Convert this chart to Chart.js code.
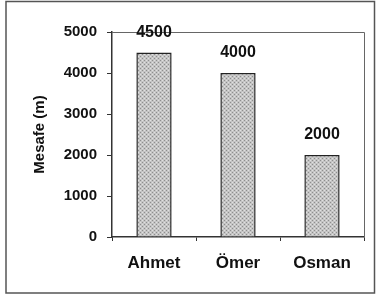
<!DOCTYPE html>
<html>
<head>
<meta charset="utf-8">
<script src="https://cdn.jsdelivr.net/npm/chart.js@4/dist/chart.umd.min.js"></script>
<style>
  html, body { margin: 0; padding: 0; background: #fff; }
  #kutu { width: 376px; height: 295px; }
</style>
</head>
<body>
<div id="kutu"><canvas id="grafik" width="376" height="295"></canvas></div>
<script>
// veriler
const isimler = ["Ahmet", "Ömer", "Osman"];
const mesafeler = [4500, 4000, 2000];
const eksenBasligi = "Mesafe (m)";

// noktalı gri desen (taranmış çubuk görünümü)
function desenYap() {
    const c = document.createElement("canvas");
    c.width = 4; c.height = 4;
    const g = c.getContext("2d");
    g.fillStyle = "#c4c4c4";
    g.fillRect(0, 0, 4, 4);
    g.fillStyle = "#8e8e8e";
    g.fillRect(0, 0, 1, 1);
    g.fillRect(2, 2, 1, 1);
    g.fillStyle = "#e0e0e0";
    g.fillRect(2, 0, 1, 1);
    g.fillRect(0, 2, 1, 1);
    return g.createPattern(c, "repeat");
}

const YAZI = "Arial, 'Liberation Sans', sans-serif";

// çubuk üstü değerler + çerçeveler
const etiketEklentisi = {
    id: "etiketler",
    afterDatasetsDraw(chart) {
        const ctx = chart.ctx;
        const meta = chart.getDatasetMeta(0);
        ctx.save();
        ctx.font = "bold 16px " + YAZI;
        ctx.fillStyle = "#111";
        ctx.textAlign = "center";
        ctx.textBaseline = "middle";
        meta.data.forEach((bar, i) => {
            ctx.fillText(String(mesafeler[i]), bar.x, bar.y - 20);
        });
        ctx.restore();
    },
    beforeDatasetsDraw(chart) {
        const { ctx, chartArea: a } = chart;
        ctx.save();
        ctx.strokeStyle = "#666";
        ctx.lineWidth = 1;
        ctx.beginPath();
        ctx.moveTo(a.left, a.top + 0.5);
        ctx.lineTo(a.right + 0.5, a.top + 0.5);
        ctx.lineTo(a.right + 0.5, a.bottom);
        ctx.stroke();
        ctx.restore();
    },
    afterDraw(chart) {
        const ctx = chart.ctx;
        ctx.save();
        ctx.strokeStyle = "#555";
        ctx.lineWidth = 1.5;
        ctx.strokeRect(6, 1.5, 368.5, 291.5);
        ctx.restore();
    }
};

new Chart(document.getElementById("grafik"), {
    type: "bar",
    data: {
        labels: isimler,
        datasets: [{
            data: mesafeler,
            backgroundColor: desenYap(),
            borderColor: "#222",
            borderWidth: 1.5,
            barPercentage: 0.42,
            categoryPercentage: 1
        }]
    },
    options: {
        responsive: false,
        animation: false,
        layout: { padding: { left: 6, top: 32, right: 12, bottom: 0 } },
        plugins: {
            legend: { display: false },
            tooltip: { enabled: false }
        },
        scales: {
            y: {
                min: 0,
                max: 5000,
                ticks: {
                    stepSize: 1000,
                    color: "#111",
                    padding: 10,
                    callback: v => String(v),
                    font: { family: YAZI, size: 15, weight: "bold" }
                },
                grid: { drawOnChartArea: false, tickLength: 5, color: "#333" },
                border: { color: "#333", width: 1.5 },
                title: {
                    display: true,
                    text: eksenBasligi,
                    color: "#111",
                    padding: { top: 25, bottom: 0 },
                    font: { family: YAZI, size: 15, weight: "bold" }
                },
                afterFit: s => { s.width = 106; }
            },
            x: {
                ticks: {
                    color: "#111",
                    padding: 12,
                    font: { family: YAZI, size: 17, weight: "bold" }
                },
                grid: { drawOnChartArea: false, tickLength: 4, color: "#333" },
                border: { color: "#333", width: 1.5 },
                afterFit: s => { s.height = 58; }
            }
        }
    },
    plugins: [etiketEklentisi]
});
</script>
</body>
</html>
